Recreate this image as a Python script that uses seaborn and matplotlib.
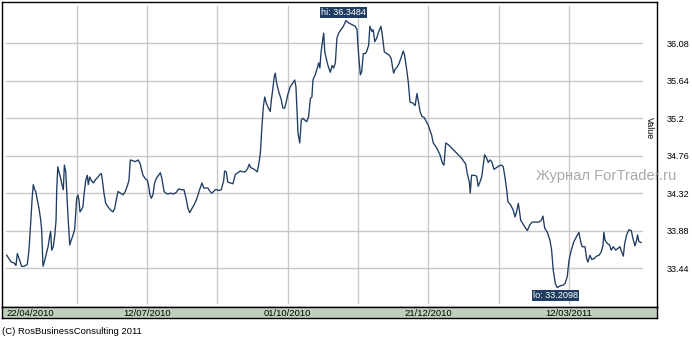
import numpy as np
import pandas as pd
import matplotlib
matplotlib.use("Agg")
import matplotlib.pyplot as plt
import matplotlib.dates as mdates
import seaborn as sns

plt.rcParams['font.family'] = ['Liberation Sans', 'DejaVu Sans']

start_date = "2010-04-22"
day_offset = [
    0.2, 1.5, 2.8, 4.4, 5.5, 6.3, 7.3, 8.8, 10.1, 12.0, 13.0, 14.0, 14.9, 15.5, 16.3, 16.9,
    17.8, 18.8, 19.8, 20.3, 21.1, 22.1, 23.0, 24.0, 24.9, 25.5, 26.1, 27.0, 27.8, 28.6, 29.0,
    29.6, 30.3, 31.3, 32.0, 32.8, 33.4, 34.2, 34.7, 35.5, 36.5, 37.4, 38.4, 39.3, 39.9, 40.5,
    41.2, 41.8, 42.4, 43.1, 44.1, 44.7, 45.7, 46.6, 47.2, 48.0, 48.9, 50.1, 51.4, 52.8, 53.9,
    54.7, 55.5, 56.2, 57.2, 58.5, 60.1, 61.4, 62.4, 63.3, 64.3, 65.8, 67.2, 68.5, 69.6, 70.6,
    71.4, 72.9, 74.3, 75.8, 77.0, 77.7, 78.7, 80.0, 81.2, 82.0, 82.7, 83.5, 84.4, 85.4, 86.3,
    87.7, 88.7, 89.6, 90.8, 91.8, 93.1, 94.6, 96.4, 97.9, 99.3, 100.7, 102.3, 103.5, 104.6,
    105.6, 106.9, 108.1, 109.4, 110.4, 111.3, 112.7, 113.7, 114.8, 116.1, 117.3, 118.4, 119.4,
    120.3, 121.3, 122.3, 123.8, 125.2, 125.7, 126.7, 127.5, 129.0, 130.5, 131.9, 133.4, 134.7,
    136.3, 137.6, 139.0, 139.9, 140.7, 141.9, 143.4, 144.5, 145.3, 146.3, 147.2, 148.0, 148.8,
    149.7, 150.7, 152.0, 152.6, 153.4, 154.3, 154.9, 155.7, 156.9, 158.2, 159.3, 160.3, 161.1,
    162.0, 163.5, 164.9, 166.1, 166.8, 167.4, 168.0, 169.0, 169.9, 170.7, 171.8, 173.0, 174.1,
    175.1, 176.0, 176.6, 177.9, 179.1, 179.9, 180.6, 181.2, 182.2, 182.8, 183.4, 184.5, 185.4,
    186.6, 187.6, 188.5, 189.5, 190.4, 191.4, 192.7, 194.1, 195.6, 197.2, 199.1, 201.0, 202.0,
    202.5, 203.3, 203.9, 204.7, 205.6, 206.7, 207.5, 208.7, 209.4, 210.6, 211.3, 212.2, 213.3,
    214.5, 215.8, 216.8, 217.7, 219.1, 220.6, 221.7, 222.5, 223.1, 223.8, 225.4, 226.3, 227.5,
    228.6, 229.4, 230.6, 231.5, 232.5, 234.0, 235.5, 236.5, 237.5, 238.3, 239.4, 240.6, 243.0,
    245.0, 245.9, 247.9, 249.8, 251.2, 252.1, 253.1, 254.5, 256.5, 259.4, 262.3, 264.6, 265.5,
    266.7, 267.2, 268.0, 269.4, 270.9, 271.8, 272.8, 273.8, 274.7, 275.5, 276.7, 277.6, 278.6,
    279.6, 280.9, 282.4, 283.8, 285.3, 286.2, 287.2, 288.2, 288.9, 290.5, 292.0, 293.0, 293.9,
    294.9, 295.5, 296.3, 297.8, 300.1, 301.6, 302.9, 304.9, 306.8, 308.1, 309.1, 310.1, 311.6,
    313.1, 314.1, 315.0, 316.2, 317.3, 318.9, 320.8, 321.9, 323.1, 324.1, 325.4, 326.9, 328.5,
    329.8, 330.8, 331.7, 333.3, 334.3, 335.0, 336.2, 337.2, 338.5, 340.0, 341.4, 342.7, 343.7,
    344.2, 344.8, 346.1, 347.5, 348.4, 349.6, 351.0, 352.3, 353.5, 354.2, 355.4, 356.2, 357.3,
    358.6, 360.0, 360.9, 362.1, 363.1, 363.6, 364.4, 365.7,
]
values = [
    33.59, 33.55, 33.51, 33.50, 33.47, 33.61, 33.55, 33.46, 33.46, 33.48, 33.65, 33.97, 34.28, 34.42, 34.36, 34.34,
    34.24, 34.14, 34.00, 33.89, 33.46, 33.53, 33.61, 33.69, 33.81, 33.87, 33.65, 33.69, 33.81, 34.00, 34.36,
    34.63, 34.57, 34.49, 34.42, 34.36, 34.65, 34.57, 34.36, 34.04, 33.71, 33.77, 33.83, 33.89, 34.08, 34.26,
    34.30, 34.24, 34.10, 34.12, 34.16, 34.30, 34.47, 34.53, 34.42, 34.51, 34.47, 34.44, 34.48, 34.51, 34.54,
    34.55, 34.44, 34.32, 34.20, 34.16, 34.12, 34.10, 34.14, 34.24, 34.34, 34.32, 34.30, 34.34, 34.40, 34.47,
    34.71, 34.70, 34.69, 34.71, 34.67, 34.61, 34.53, 34.49, 34.47, 34.40, 34.30, 34.26, 34.30, 34.44, 34.49,
    34.53, 34.56, 34.49, 34.34, 34.32, 34.31, 34.32, 34.31, 34.33, 34.37, 34.36, 34.36, 34.26, 34.14,
    34.09, 34.14, 34.18, 34.24, 34.30, 34.36, 34.44, 34.38, 34.38, 34.38, 34.34, 34.32, 34.34,
    34.36, 34.36, 34.35, 34.36, 34.47, 34.58, 34.57, 34.45, 34.44, 34.43, 34.54, 34.56, 34.58,
    34.57, 34.57, 34.61, 34.66, 34.62, 34.61, 34.59, 34.57, 34.65, 34.79, 35.10, 35.33, 35.45,
    35.38, 35.33, 35.28, 35.41, 35.53, 35.69, 35.73, 35.61, 35.51, 35.43, 35.32, 35.32, 35.38,
    35.47, 35.57, 35.61, 35.65, 35.57, 35.30, 35.02, 34.91, 35.18, 35.20, 35.18, 35.16, 35.22,
    35.43, 35.45, 35.65, 35.71, 35.79, 35.85, 35.79, 35.96, 36.12, 36.20, 35.98, 35.88, 35.81,
    35.74, 35.82, 35.79, 35.85, 36.14, 36.20, 36.24, 36.28, 36.3484, 36.32, 36.30, 36.28, 36.24,
    36.06, 35.85, 35.71, 35.75, 35.96, 35.96, 35.98, 36.06, 36.28, 36.22, 36.24, 36.10, 36.14,
    36.22, 36.28, 36.14, 35.98, 35.96, 35.94, 35.90, 35.79, 35.73, 35.77, 35.81, 35.85, 35.92,
    35.99, 35.94, 35.77, 35.63, 35.39, 35.38, 35.35, 35.49, 35.38, 35.28, 35.22, 35.21, 35.12,
    35.00, 34.91, 34.85, 34.77, 34.67, 34.65, 34.91, 34.89, 34.85, 34.79, 34.73, 34.66, 34.55,
    34.45, 34.32, 34.53, 34.53, 34.52, 34.40, 34.45, 34.51, 34.65, 34.77, 34.73, 34.68, 34.71,
    34.69, 34.60, 34.62, 34.64, 34.65, 34.63, 34.51, 34.36, 34.22, 34.18, 34.12, 34.04, 34.10,
    34.20, 34.12, 34.00, 33.95, 33.88, 33.95, 33.98, 33.98, 33.98, 34.00, 34.05, 33.91, 33.86,
    33.77, 33.65, 33.42, 33.26, 33.2098, 33.23, 33.24, 33.26, 33.34, 33.53, 33.65, 33.75, 33.81,
    33.86, 33.75, 33.69, 33.69, 33.55, 33.51, 33.59, 33.54, 33.55, 33.58, 33.59, 33.63, 33.71,
    33.86, 33.77, 33.73, 33.71, 33.65, 33.69, 33.65, 33.67, 33.69, 33.64, 33.58, 33.73, 33.83,
    33.89, 33.88, 33.79, 33.70, 33.77, 33.83, 33.75, 33.74,
]
y_ticks = [33.44, 33.88, 34.32, 34.76, 35.2, 35.64, 36.08]
y_tick_labels = ["33.44", "33.88", "34.32", "34.76", "35.2", "35.64", "36.08"]
x_label_dates = ["2010-04-22", "2010-07-12", "2010-10-01", "2010-12-21", "2011-03-12"]
x_label_texts = ["22/04/2010", "12/07/2010", "01/10/2010", "21/12/2010", "12/03/2011"]

base = pd.Timestamp(start_date)
dates = base + pd.to_timedelta(np.array(day_offset), unit="D")
df = pd.DataFrame({"date": dates, "value": values})

W, H = 692, 338
fig = plt.figure(figsize=(W / 100, H / 100), dpi=100)
fig.patch.set_facecolor("white")

def fx(px):
    return px / W

def fy(py):
    return 1 - py / H

ax = fig.add_axes([fx(2), fy(307), fx(657) - fx(2), fy(2) - fy(307)])
ax.set_facecolor("white")

line_color = "#1e3c62"
sns.lineplot(data=df, x="date", y="value", estimator=None, sort=False, ax=ax,
             color=line_color, linewidth=0.95, zorder=3)

base_num = mdates.date2num(base)
x0 = base_num - 2.53
x1 = base_num + 374.8
ax.set_xlim(x0, x1)
ax.set_ylim(32.982, 36.566)

grid_c = "#c8c8c8"
for v in y_ticks:
    ax.axhline(v, xmin=0.006, xmax=0.977, color=grid_c, lw=1.0, zorder=1)
for k in range(1, 9):
    ax.axvline(base_num + 40.5 * k, ymin=0.013, ymax=0.987, color=grid_c, lw=1.0, zorder=1)

ax.yaxis.tick_right()
ax.set_yticks(y_ticks)
ax.set_yticklabels(y_tick_labels, fontsize=6.6)
ax.tick_params(axis="y", length=0, pad=6.8)
ax.set_xticks([])
ax.set_xlabel("")
ax.set_ylabel("")
for s in ax.spines.values():
    s.set_color("black")
    s.set_linewidth(1.0)

# "Value" label inside the plot area
ax.text(fx(649.5 - 2) / (fx(657) - fx(2)) * 1.0, 0.585, "Value", transform=ax.transAxes,
        rotation=-90, ha="center", va="center", fontsize=6.4, color="black")

# hi / lo labels
hi_i = int(np.argmax(values))
lo_i = int(np.argmin(values))
ax.annotate(f"hi: {values[hi_i]:.4f}", xy=(mdates.date2num(dates[hi_i]), values[hi_i]),
            xytext=(-1.5, 5.6), textcoords="offset points", ha="center", va="center",
            fontsize=6.6, color="white", zorder=5,
            bbox=dict(boxstyle="square,pad=0.12", fc="#1f3d62", ec="none"))
ax.annotate(f"lo: {values[lo_i]:.4f}", xy=(mdates.date2num(dates[lo_i]), values[lo_i]),
            xytext=(-1.5, -5.7), textcoords="offset points", ha="center", va="center",
            fontsize=6.6, color="white", zorder=5,
            bbox=dict(boxstyle="square,pad=0.12", fc="#1f3d62", ec="none"))

# date band
band = fig.add_axes([fx(2), fy(318), fx(657) - fx(2), fy(307) - fy(318)])
band.set_facecolor("#bfd1bc")
band.set_xlim(x0, x1)
band.set_ylim(0, 1)
band.set_xticks([])
band.set_yticks([])
for s in band.spines.values():
    s.set_color("black")
    s.set_linewidth(1.0)
for i, (d, t) in enumerate(zip(x_label_dates, x_label_texts)):
    xn = mdates.date2num(pd.Timestamp(d))
    band.text(xn, 0.45, t, ha="left" if i == 0 else "center", va="center",
              fontsize=6.8, color="black")

# watermark
fig.text(fx(536), fy(176), "Журнал ForTrader.ru", ha="left", va="center",
         fontsize=10.6, color="#a9a9a9", zorder=10)

# copyright
fig.text(fx(2), fy(331), "(C) RosBusinessConsulting 2011", ha="left", va="center",
         fontsize=6.8, color="black")

fig.savefig("out.png", dpi=100, facecolor="white")
